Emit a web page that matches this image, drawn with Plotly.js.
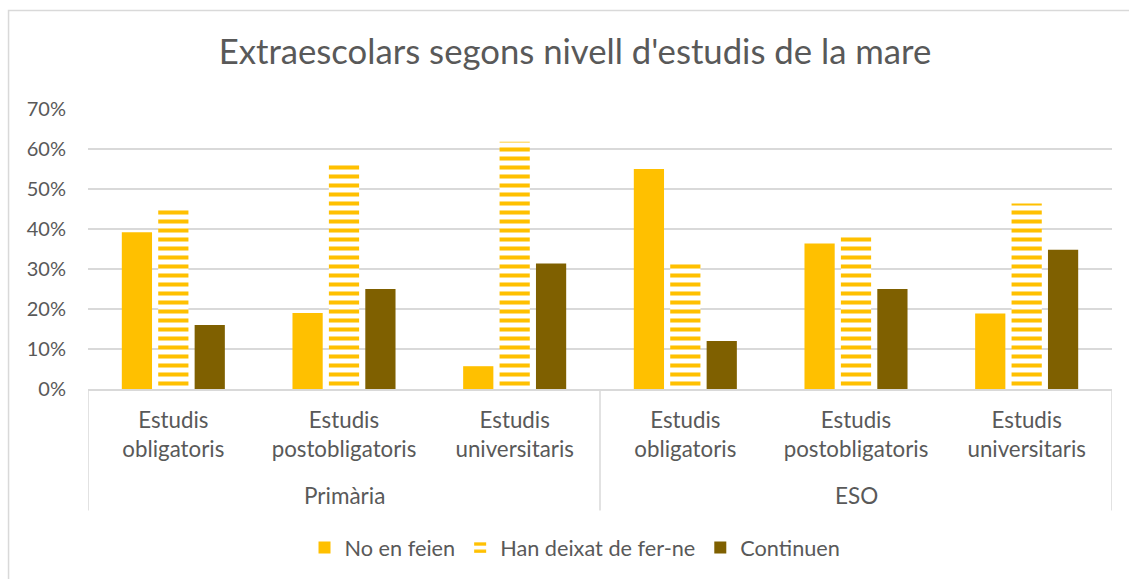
<!DOCTYPE html>
<html>
<head>
<meta charset="utf-8">
<script src="https://cdn.plot.ly/plotly-3.0.1.min.js"></script>
<style>html,body{margin:0;padding:0;background:#fff;}#chart{width:1129px;height:579px;}</style>
</head>
<body>
<div id="chart"></div>
<script>
const groupNames = ["Primària","ESO"];
const levels = ["Estudis<br>obligatoris","Estudis<br>postobligatoris","Estudis<br>universitaris","Estudis<br>obligatoris","Estudis<br>postobligatoris","Estudis<br>universitaris"];
const seriesNames = ["No en feien","Han deixat de fer-ne","Continuen"];
const noEnFeien = [0.392, 0.19, 0.057, 0.550, 0.364, 0.189];
const hanDeixat = [0.448, 0.560, 0.618, 0.322, 0.384, 0.464];
const continuen = [0.160, 0.250, 0.314, 0.120, 0.250, 0.348];
const yTicks = [0,0.1,0.2,0.3,0.4,0.5,0.6,0.7];

const FONT = "Lato, 'Open Sans', sans-serif";
const GREY = "#595959";
const LINE = "#d9d9d9";
const idx = levels.map((_, i) => i);
const perGroup = levels.length / groupNames.length;

const traces = [
  {type:"bar", name:seriesNames[0], x:idx, y:noEnFeien, marker:{color:"#FFC000"}},
  {type:"bar", name:seriesNames[1], x:idx, y:hanDeixat,
   marker:{color:"#FFFFFF", pattern:{shape:"-", fgcolor:"#FFC000", fgopacity:1, bgcolor:"#FFFFFF", size:9, solidity:0.45, fillmode:"overlay"}}},
  {type:"bar", name:seriesNames[2], x:idx, y:continuen, marker:{color:"#7F6000"}}
];

const divBottom = -(512 - 390) / 281;
const shapes = [{type:"rect", xref:"paper", yref:"paper", x0:-0.0776, x1:1.2, y0:-1.2, y1:1.352, line:{color:LINE, width:1.5}, layer:"below"}];
for (let g = 0; g <= groupNames.length; g++) {
  const xv = g * perGroup - 0.5;
  shapes.push({type:"line", xref:"x", yref:"paper", x0:xv, x1:xv, y0:0, y1:divBottom, line:{color:LINE, width:1.5}});
}
const annotations = groupNames.map((name, g) => ({
  text:name, xref:"x", yref:"paper", x:g * perGroup + (perGroup - 1) / 2, y:(390 - 497) / 281,
  xanchor:"center", yanchor:"middle", showarrow:false, font:{family:FONT, size:22.5, color:GREY}
}));

const layout = {
  width:1129, height:579,
  paper_bgcolor:"#fff", plot_bgcolor:"#fff",
  margin:{l:88, r:17, t:109, b:189},
  font:{family:FONT, color:GREY, size:19},
  title:{text:"Extraescolars segons nivell d'estudis de la mare", font:{family:FONT, size:34.7, color:GREY}, x:0.5093, xanchor:"center", y:0.91, yanchor:"middle"},
  barmode:"group", bargap:0.36, bargroupgap:0.17,
  xaxis:{type:"linear", range:[-0.5, levels.length - 0.5], tickvals:idx, ticktext:levels, showgrid:false, zeroline:false,
         showline:true, linecolor:LINE, linewidth:1.5, ticks:"", ticklabelstandoff:10, tickfont:{size:22.3, color:GREY, family:FONT}},
  yaxis:{range:[0,0.7], tickvals:yTicks, tickformat:".0%", gridcolor:LINE, gridwidth:1.5, zeroline:false, showline:false, ticks:"", ticklabelstandoff:21, tickfont:{size:20, color:GREY, family:FONT}},
  legend:{orientation:"h", x:0.4756, xanchor:"center", y:(390 - 548) / 281, yanchor:"middle", font:{size:21.7, color:GREY, family:FONT}, traceorder:"normal", itemwidth:30},
  shapes:shapes,
  annotations:annotations,
  showlegend:true
};
Plotly.newPlot("chart", traces, layout, {displayModeBar:false});
</script>
</body>
</html>
